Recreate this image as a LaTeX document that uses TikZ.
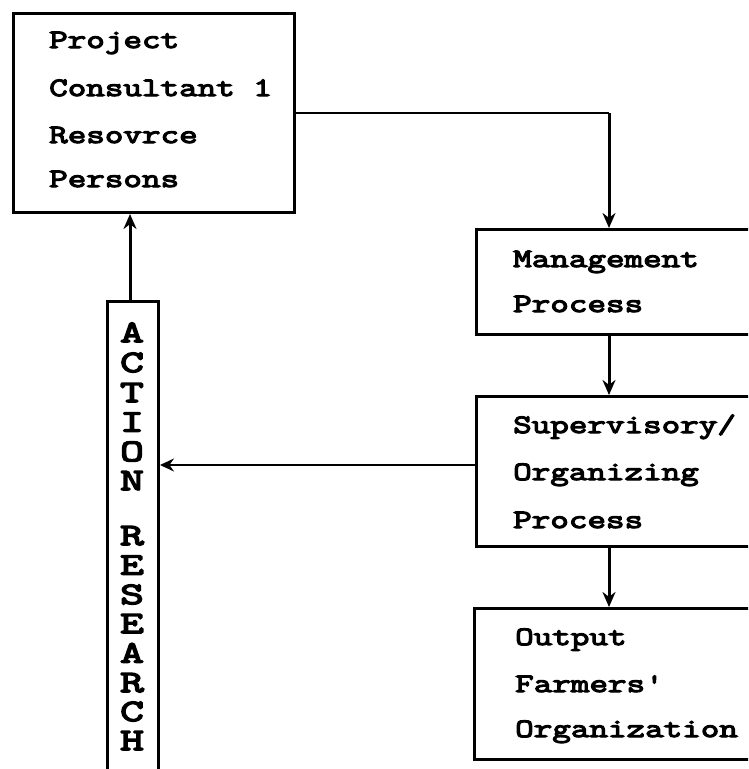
\documentclass[tikz,border=0pt]{standalone}
\usepackage{fontspec}
\usetikzlibrary{arrows.meta}
% wide, heavy typewriter face for the box texts and the upright lettering
\newfontfamily\dotmatrix[FakeStretch=1.36,FakeBold=4.5]{Latin Modern Mono}
\newfontfamily\dotmatrixtall[FakeStretch=1.5,FakeBold=5]{Latin Modern Mono}
\begin{document}
\begin{tikzpicture}[x=1pt,y=-1pt,
  box/.style={draw, line width=3pt, rectangle, inner sep=0pt, anchor=north west},
  txt/.style={anchor=base west, inner sep=0pt,
    font=\dotmatrix\fontsize{26.5}{26.5}\selectfont},
  letter/.style={anchor=base, inner sep=0pt,
    font=\dotmatrixtall\fontsize{31}{31}\selectfont},
  flow/.style={line width=3pt, -{Stealth[length=15pt,width=13pt]}},
  feed/.style={line width=2pt, -{Stealth[length=14pt,width=13pt]}},
  link/.style={line width=2pt}]
\fill[white] (0,0) rectangle (748,769);
\useasboundingbox (0,0) rectangle (748,769);
\clip (0,0) rectangle (748,769);

% boxes
\node[box, minimum width=281pt, minimum height=199pt] (pc)   at (12,12)  {};
\node[box, minimum width=300pt, minimum height=105pt] (mgmt) at (475,228) {};
\node[box, minimum width=300pt, minimum height=150pt] (sup)  at (475,395) {};
\node[box, minimum width=300pt, minimum height=151pt] (out)  at (473,607) {};
\node[box, minimum width=51pt,  minimum height=500pt] (ar)   at (106,300) {};

% box texts
\node[txt] (t1)  at (49,48)   {Project};
\node[txt] (t2)  at (49,96)   {Consultant 1};
\node[txt] (t3)  at (49,143)  {Resovrce};
\node[txt] (t4)  at (49,187)  {Persons};
\node[txt] (t5)  at (513,267) {Management};
\node[txt] (t6)  at (513,312) {Process};
\node[txt] (t7)  at (513,433) {Supervisory/};
\node[txt] (t8)  at (513,480) {Organizing};
\node[txt] (t9)  at (513,528) {Process};
\node[txt] (t10) at (515,645) {Output};
\node[txt] (t11) at (515,692) {Farmers'};
\node[txt] (t12) at (515,737) {Organization};

% upright lettering down the narrow box
\foreach \ch/\yy [count=\i] in {A/342,C/372,T/402,I/431.5,O/461,N/490,
    R/545,E/574.5,S/604,E/633,A/662.5,R/692,C/721,H/750}
  \node[letter] (l\i) at (132,\yy) {\ch};

% connectors
\coordinate (corner) at ([xshift=134pt]mgmt.north west |- pc.east);
\draw[link] (pc.east) -- (corner);
\draw[flow] (corner) -- ([xshift=134pt]mgmt.north west);
\draw[flow] ([xshift=134pt]mgmt.south west) -- ([xshift=134pt]sup.north west);
\draw[flow] ([xshift=134pt]sup.south west) -- ([xshift=136pt]out.north west);
\coordinate (sl) at ([yshift=-70pt]sup.north west);
\draw[feed] (sl) -- (sl -| ar.east);
\coordinate (au) at ([xshift=-3pt]ar.north);
\draw[flow] (au) -- (au |- pc.south);
\end{tikzpicture}
\end{document}
